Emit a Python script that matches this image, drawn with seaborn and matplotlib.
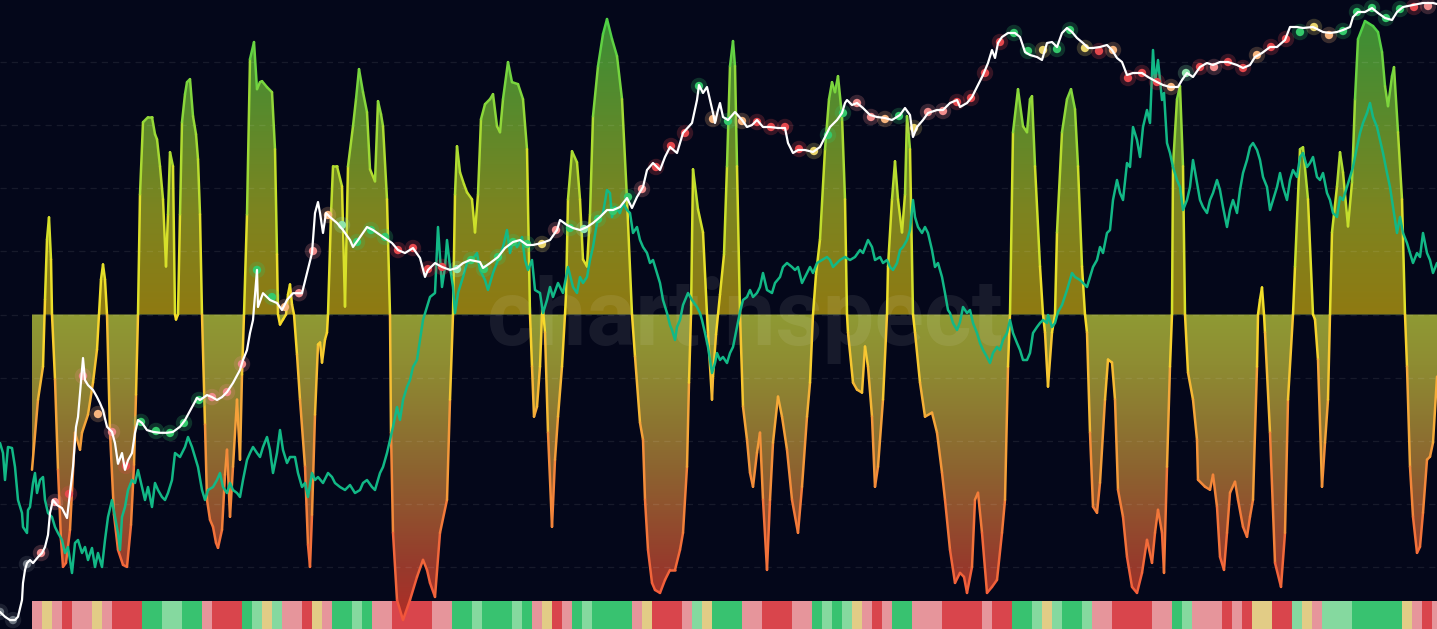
import numpy as np
import pandas as pd
import matplotlib
matplotlib.use("Agg")
import matplotlib.pyplot as plt
import seaborn as sns
from matplotlib.collections import LineCollection
from matplotlib.colors import LinearSegmentedColormap, Normalize
from matplotlib.ticker import MultipleLocator

# ========= Data =========
# oscillator score, 0 = neutral line
osc_t = [32, 38, 43, 45, 47, 49, 51, 52, 55, 58,
         61, 63, 66, 70, 75, 80, 82, 88, 93, 97,
         99, 101, 103, 105, 107, 110, 114, 118, 123, 127,
         131, 134, 136, 138, 140, 143, 148, 152, 155, 157,
         160, 163, 166, 168, 170, 173, 175, 176, 178, 180,
         182, 185, 187, 190, 193, 196, 198, 200, 202, 205,
         207, 210, 213, 216, 218, 222, 225, 227, 230, 233,
         237, 240, 242, 244, 247, 250, 254, 257, 260, 262,
         267, 272, 275, 277, 278, 280, 283, 286, 288, 290,
         292, 294, 297, 300, 305, 308, 310, 312, 315, 318,
         320, 322, 325, 327, 328, 331, 333, 337, 342, 345,
         348, 353, 356, 359, 363, 367, 370, 375, 378, 381,
         383, 387, 390, 391, 393, 397, 403, 410, 417, 423,
         427, 430, 435, 440, 447, 450, 453, 455, 457, 460,
         464, 467, 472, 475, 478, 481, 485, 490, 493, 497,
         500, 503, 508, 512, 518, 523, 527, 530, 532, 534,
         537, 540, 542, 543, 545, 548, 552, 555, 558, 562,
         565, 566, 568, 572, 577, 580, 583, 587, 590, 593,
         598, 603, 607, 612, 617, 622, 627, 632, 635, 640,
         643, 645, 648, 652, 655, 660, 665, 670, 675, 680,
         683, 687, 689, 691, 693, 698, 703, 707, 708, 712,
         713, 716, 718, 720, 724, 727, 730, 733, 735, 737,
         740, 743, 747, 750, 753, 757, 760, 763, 767, 770,
         773, 778, 782, 787, 792, 798, 802, 807, 810, 813,
         816, 820, 825, 829, 832, 835, 838, 842, 845, 847,
         848, 853, 857, 862, 865, 868, 872, 875, 878, 883,
         887, 888, 892, 895, 898, 902, 905, 907, 910, 913,
         915, 920, 925, 932, 937, 942, 945, 950, 955, 960,
         964, 967, 972, 975, 978, 982, 987, 992, 997, 1002,
         1005, 1008, 1010, 1013, 1018, 1023, 1027, 1030, 1032, 1035,
         1040, 1043, 1045, 1048, 1052, 1055, 1057, 1062, 1067, 1071,
         1075, 1078, 1082, 1085, 1087, 1090, 1093, 1097, 1100, 1105,
         1108, 1112, 1115, 1118, 1123, 1127, 1132, 1137, 1142, 1147,
         1152, 1155, 1158, 1162, 1164, 1167, 1170, 1172, 1173, 1177,
         1180, 1183, 1185, 1188, 1193, 1197, 1198, 1205, 1210, 1213,
         1217, 1220, 1224, 1227, 1230, 1235, 1238, 1243, 1247, 1250,
         1253, 1257, 1258, 1260, 1262, 1264, 1265, 1270, 1275, 1281,
         1285, 1288, 1293, 1295, 1300, 1303, 1308, 1313, 1315, 1318,
         1322, 1325, 1328, 1330, 1332, 1337, 1340, 1343, 1348, 1352,
         1355, 1358, 1365, 1373, 1378, 1382, 1385, 1388, 1392, 1394,
         1398, 1402, 1405, 1407, 1410, 1413, 1417, 1420, 1423, 1427,
         1430, 1433, 1437]
osc_val = [-155, -85, -52, 15, 75, 97, 55, 0, -65, -155,
           -225, -252, -248, -215, -118, -135, -118, -100, -68, -35,
           0, 35, 50, 35, 0, -118, -200, -235, -250, -252,
           -210, -150, -80, 0, 120, 192, 197, 197, 180, 175,
           148, 115, 48, 100, 162, 148, 0, -5, 0, 100,
           192, 220, 232, 235, 198, 180, 155, 100, 0, -110,
           -185, -205, -212, -228, -233, -215, -160, -135, -202, -152,
           -85, -145, -60, 0, 100, 255, 272, 225, 232, 233,
           227, 222, 165, 60, 0, -10, -5, 0, 20, 30,
           10, 0, -40, -85, -152, -230, -252, -200, -100, -30,
           -28, -48, -25, -18, 0, 100, 148, 148, 128, 8,
           148, 188, 215, 245, 222, 202, 145, 133, 213, 200,
           188, 115, 0, -118, -218, -285, -305, -285, -262, -245,
           -255, -268, -282, -218, -185, -85, 0, 120, 168, 142,
           130, 122, 115, 82, 120, 195, 210, 215, 220, 188,
           182, 215, 252, 232, 230, 215, 165, 0, -52, -102,
           -92, -52, 0, 5, -18, -118, -212, -145, -102, -52,
           0, 20, 115, 163, 152, 115, 55, 48, 100, 198,
           248, 280, 295, 275, 258, 215, 115, 0, -42, -108,
           -125, -185, -235, -268, -275, -278, -265, -255, -255, -235,
           -218, -152, -68, 0, 145, 105, 82, 0, -18, -85,
           -62, -20, 0, 20, 60, 148, 248, 273, 248, 148,
           0, -92, -125, -158, -172, -138, -118, -185, -255, -185,
           -128, -82, -102, -135, -185, -218, -172, -102, -68, 0,
           40, 75, 165, 215, 232, 222, 238, 198, 115, 0,
           -18, -68, -75, -78, -32, -52, -102, -172, -152, -85,
           0, 48, 115, 153, 115, 82, 120, 198, 165, 0,
           -18, -68, -102, -98, -118, -158, -185, -235, -268, -258,
           -262, -278, -252, -185, -178, -218, -278, -272, -265, -218,
           -185, -52, 0, 182, 225, 188, 182, 215, 218, 148,
           48, 0, -18, -72, -18, 0, 82, 182, 215, 225,
           205, 148, 48, 0, -18, -118, -192, -198, -168, -85,
           -45, -48, -85, -175, -202, -242, -272, -278, -258, -225,
           -248, -218, -195, -218, -258, -152, -52, 0, 148, 215,
           228, 148, 0, -58, -85, -125, -165, -172, -175, -160,
           -192, -242, -255, -218, -178, -167, -185, -212, -222, -202,
           -185, -52, 0, 15, 27, 0, -18, -118, -248, -272,
           -218, -85, 0, 48, 165, 167, 115, 0, -5, -45,
           -172, -128, -85, 0, 82, 128, 162, 142, 88, 132,
           215, 275, 293, 288, 282, 262, 228, 208, 238, 247,
           182, 115, 0, -52, -152, -202, -238, -232, -198, -145,
           -142, -128, -62]

# price, USD (log scale)
price_t = [0, 5, 10, 15, 18, 22, 23, 25, 27, 30,
           33, 38, 42, 45, 48, 50, 53, 57, 62, 67,
           70, 73, 76, 78, 80, 83, 85, 88, 93, 97,
           100, 103, 107, 112, 115, 118, 122, 125, 128, 132,
           135, 138, 142, 147, 153, 160, 167, 173, 180, 185,
           192, 197, 200, 207, 212, 217, 222, 227, 233, 240,
           243, 247, 250, 253, 257, 258, 263, 270, 277, 282,
           287, 293, 302, 307, 312, 315, 318, 320, 323, 326,
           330, 337, 343, 350, 353, 358, 367, 373, 383, 392,
           398, 405, 413, 420, 425, 428, 435, 442, 450, 457,
           463, 470, 480, 483, 490, 498, 505, 513, 520, 527,
           533, 542, 550, 557, 560, 567, 573, 580, 587, 593,
           600, 607, 613, 620, 627, 632, 637, 643, 647, 653,
           660, 665, 670, 677, 683, 692, 697, 699, 703, 707,
           710, 713, 715, 718, 720, 723, 728, 735, 742, 747,
           752, 757, 763, 770, 778, 785, 788, 793, 798, 805,
           813, 820, 825, 830, 837, 842, 845, 847, 852, 857,
           863, 870, 877, 885, 892, 900, 905, 910, 913, 917,
           923, 928, 937, 943, 950, 957, 960, 967, 972, 977,
           983, 988, 992, 995, 998, 1002, 1008, 1015, 1020, 1025,
           1030, 1037, 1042, 1047, 1052, 1057, 1062, 1067, 1072, 1077,
           1083, 1088, 1093, 1100, 1107, 1112, 1117, 1122, 1127, 1133,
           1142, 1148, 1157, 1163, 1170, 1178, 1182, 1187, 1193, 1200,
           1207, 1213, 1220, 1228, 1237, 1243, 1250, 1255, 1262, 1270,
           1277, 1285, 1290, 1297, 1303, 1313, 1323, 1330, 1337, 1343,
           1350, 1353, 1358, 1365, 1372, 1378, 1385, 1392, 1397, 1403,
           1413, 1423, 1433, 1437]
price_usd = [0.076, 0.068, 0.063, 0.063, 0.068, 0.10, 0.148, 0.20, 0.234, 0.251,
             0.234, 0.269, 0.295, 0.339, 0.447, 0.741, 1.0, 0.89, 0.83, 0.66,
             1.17, 2.14, 5.37, 6.76, 11.7, 26.3, 15.8, 14.1, 12.6, 10.7,
             9.3, 7.9, 5.4, 4.8, 3.7, 2.3, 2.95, 2.0, 2.5, 2.95,
             4.7, 6.3, 5.9, 5.0, 4.8, 4.7, 4.7, 4.8, 5.4, 6.3,
             8.5, 10.5, 10.0, 11.2, 10.7, 10.0, 10.7, 12.0, 14.8, 20.0,
             25.1, 31.6, 46.8, 63.1, 200, 85.1, 117, 100, 93.3, 79.4,
             100, 117, 117, 186, 295, 741, 955, 741, 468, 741,
             676, 589, 501, 398, 339, 398, 537, 501, 427, 372,
             316, 295, 331, 263, 170, 200, 234, 214, 200, 209,
             234, 251, 240, 209, 234, 269, 331, 380, 398, 355,
             355, 372, 398, 501, 631, 562, 525, 501, 537, 589,
             676, 794, 794, 851, 1047, 832, 1072, 1349, 1995, 2344,
             1995, 2692, 3388, 2951, 4677, 5888, 10000, 14125, 11749, 13490,
             10000, 7413, 5888, 7943, 9333, 6761, 6310, 7586, 6310, 5370,
             5623, 6310, 5370, 5370, 5248, 5248, 3715, 2951, 3162, 3162,
             3020, 3388, 4266, 5370, 6310, 7413, 9333, 10000, 8913, 9333,
             8318, 7079, 6761, 6607, 6310, 7079, 8318, 7079, 4266, 5370,
             6310, 7413, 7943, 7943, 9333, 10000, 8511, 9333, 10715, 13490,
             17783, 23442, 31623, 26303, 37154, 42658, 46774, 46774, 42658, 30200,
             28184, 26915, 25119, 37154, 38019, 33884, 46774, 52481, 47863, 41687,
             37154, 33113, 33113, 33884, 35481, 31623, 26303, 23988, 17783, 18621,
             18621, 16982, 15136, 14125, 13490, 13490, 15849, 18621, 16982, 21380,
             23442, 22387, 23988, 23988, 22387, 20893, 22387, 26915, 29512, 33884,
             33884, 39811, 53703, 53703, 52481, 53703, 47863, 46774, 47863, 50119,
             53703, 67608, 75858, 75858, 83176, 74131, 66069, 63096, 75858, 85114,
             89125, 93325, 93325, 91201]

# teal ratio line
ratio_t = [0, 3, 5, 8, 12, 15, 18, 22, 23, 27,
           28, 30, 33, 35, 37, 40, 43, 45, 48, 52,
           55, 58, 62, 65, 68, 72, 75, 78, 82, 85,
           88, 92, 95, 98, 102, 105, 108, 112, 115, 118,
           120, 122, 125, 128, 132, 135, 138, 142, 145, 148,
           152, 155, 158, 162, 165, 168, 172, 175, 180, 185,
           188, 192, 195, 198, 202, 205, 208, 213, 217, 220,
           223, 227, 230, 233, 237, 240, 243, 247, 250, 253,
           257, 260, 263, 267, 270, 273, 277, 280, 283, 287,
           290, 295, 298, 302, 305, 308, 312, 315, 318, 323,
           328, 332, 335, 340, 345, 350, 355, 360, 363, 367,
           372, 375, 380, 383, 387, 390, 393, 397, 400, 403,
           407, 410, 413, 417, 420, 423, 427, 430, 435, 438,
           442, 445, 447, 450, 453, 455, 458, 463, 467, 472,
           477, 480, 485, 488, 493, 498, 503, 507, 510, 513,
           517, 522, 525, 528, 532, 535, 540, 543, 547, 550,
           553, 558, 563, 568, 573, 577, 580, 583, 587, 590,
           593, 597, 600, 603, 607, 610, 612, 615, 620, 623,
           627, 630, 633, 637, 640, 643, 647, 650, 653, 657,
           660, 663, 667, 670, 672, 675, 677, 680, 683, 688,
           692, 697, 700, 702, 705, 708, 712, 715, 717, 720,
           723, 727, 730, 733, 737, 740, 743, 747, 750, 753,
           757, 760, 763, 767, 772, 775, 780, 783, 787, 792,
           795, 798, 802, 805, 810, 813, 817, 822, 827, 830,
           833, 837, 840, 845, 850, 855, 860, 863, 868, 872,
           875, 880, 883, 887, 890, 893, 897, 900, 903, 907,
           910, 913, 915, 918, 922, 925, 928, 932, 935, 938,
           942, 945, 948, 950, 953, 957, 960, 963, 967, 970,
           973, 977, 980, 983, 987, 990, 993, 997, 1000, 1003,
           1007, 1010, 1013, 1017, 1020, 1023, 1027, 1030, 1033, 1037,
           1040, 1043, 1047, 1048, 1052, 1055, 1058, 1062, 1067, 1072,
           1075, 1080, 1083, 1087, 1090, 1093, 1097, 1100, 1103, 1107,
           1110, 1113, 1117, 1120, 1123, 1127, 1130, 1133, 1137, 1140,
           1143, 1147, 1150, 1153, 1155, 1158, 1162, 1164, 1167, 1170,
           1173, 1177, 1180, 1183, 1187, 1190, 1193, 1197, 1200, 1203,
           1207, 1210, 1213, 1217, 1220, 1223, 1227, 1230, 1233, 1237,
           1240, 1243, 1247, 1250, 1253, 1257, 1260, 1263, 1267, 1270,
           1273, 1277, 1280, 1283, 1287, 1290, 1293, 1297, 1300, 1303,
           1307, 1310, 1313, 1317, 1320, 1323, 1327, 1330, 1333, 1337,
           1340, 1343, 1347, 1350, 1353, 1357, 1360, 1363, 1367, 1370,
           1373, 1377, 1380, 1383, 1387, 1390, 1393, 1397, 1400, 1403,
           1407, 1410, 1413, 1417, 1420, 1423, 1427, 1430, 1433, 1437]
ratio_val = [1.57, 1.47, 1.20, 1.53, 1.52, 1.33, 1.00, 0.87, 0.73, 0.67,
             0.90, 0.93, 1.17, 1.27, 1.07, 1.20, 1.23, 1.00, 0.87, 0.83,
             0.73, 0.67, 0.60, 0.47, 0.53, 0.27, 0.57, 0.60, 0.47, 0.53,
             0.40, 0.52, 0.33, 0.47, 0.33, 0.60, 0.83, 1.00, 0.83, 0.67,
             0.50, 0.83, 0.93, 1.10, 1.20, 1.17, 1.30, 1.13, 1.00, 1.13,
             0.93, 1.17, 1.10, 1.03, 1.00, 1.07, 1.20, 1.47, 1.43, 1.53,
             1.63, 1.53, 1.43, 1.33, 1.10, 1.00, 1.10, 1.13, 1.20, 1.27,
             1.13, 1.07, 1.17, 1.10, 1.07, 1.03, 1.20, 1.40, 1.47, 1.53,
             1.47, 1.43, 1.53, 1.63, 1.50, 1.27, 1.47, 1.70, 1.50, 1.37,
             1.43, 1.43, 1.27, 1.13, 1.17, 1.03, 1.27, 1.20, 1.23, 1.17,
             1.27, 1.23, 1.17, 1.13, 1.10, 1.15, 1.07, 1.10, 1.17, 1.20,
             1.13, 1.10, 1.27, 1.33, 1.47, 1.60, 1.73, 1.93, 1.80, 2.00,
             2.13, 2.20, 2.33, 2.40, 2.60, 2.80, 2.93, 3.03, 3.07, 3.73,
             3.13, 3.33, 3.60, 3.33, 3.13, 2.87, 3.07, 3.23, 3.37, 3.40,
             3.47, 3.30, 3.20, 3.10, 3.27, 3.40, 3.53, 3.70, 3.47, 3.60,
             3.53, 3.63, 3.40, 3.30, 3.40, 3.10, 3.07, 2.87, 3.00, 3.13,
             3.03, 3.17, 3.07, 3.33, 3.13, 3.07, 3.23, 3.17, 3.23, 3.40,
             3.53, 3.77, 3.83, 3.87, 4.10, 4.07, 3.83, 3.93, 3.87, 3.97,
             3.90, 3.87, 3.67, 3.73, 3.60, 3.53, 3.47, 3.37, 3.40, 3.27,
             3.17, 3.00, 2.87, 2.75, 2.70, 2.60, 2.73, 2.80, 2.95, 3.07,
             3.00, 2.93, 2.87, 2.80, 2.67, 2.53, 2.27, 2.37, 2.47, 2.40,
             2.43, 2.37, 2.47, 2.53, 2.73, 2.88, 3.00, 3.03, 3.10, 3.03,
             3.07, 3.13, 3.27, 3.10, 3.07, 3.17, 3.23, 3.33, 3.37, 3.33,
             3.30, 3.33, 3.17, 3.23, 3.33, 3.27, 3.37, 3.40, 3.43, 3.40,
             3.33, 3.37, 3.40, 3.43, 3.40, 3.43, 3.50, 3.47, 3.60, 3.53,
             3.40, 3.43, 3.37, 3.40, 3.33, 3.30, 3.37, 3.50, 3.53, 3.60,
             3.70, 4.00, 3.83, 3.73, 3.67, 3.73, 3.67, 3.50, 3.33, 3.37,
             3.23, 3.07, 2.90, 2.87, 2.77, 2.70, 2.78, 2.93, 2.87, 2.90,
             2.77, 2.67, 2.57, 2.50, 2.43, 2.37, 2.47, 2.53, 2.50, 2.60,
             2.67, 2.80, 2.67, 2.57, 2.50, 2.40, 2.40, 2.47, 2.67, 2.73,
             2.77, 2.80, 2.77, 2.85, 2.73, 2.77, 2.88, 2.95, 3.10, 3.27,
             3.23, 3.20, 3.17, 3.13, 3.23, 3.33, 3.40, 3.53, 3.47, 3.67,
             3.70, 4.00, 4.20, 4.07, 4.00, 4.37, 4.33, 4.73, 4.60, 4.43,
             4.73, 4.90, 4.77, 5.50, 5.17, 5.40, 5.00, 5.07, 4.57, 4.47,
             4.33, 4.20, 4.13, 3.90, 4.00, 4.13, 4.40, 4.17, 4.00, 3.93,
             3.87, 4.00, 4.07, 4.20, 4.10, 3.93, 3.73, 3.90, 4.00, 3.87,
             4.10, 4.27, 4.40, 4.53, 4.57, 4.50, 4.40, 4.23, 4.13, 3.90,
             4.00, 4.13, 4.27, 4.13, 4.00, 4.20, 4.30, 4.23, 4.43, 4.47,
             4.33, 4.37, 4.43, 4.23, 4.20, 4.27, 4.07, 4.00, 3.87, 3.83,
             4.03, 4.00, 4.13, 4.23, 4.33, 4.53, 4.67, 4.77, 4.87, 4.97,
             4.83, 4.73, 4.60, 4.47, 4.27, 4.13, 3.93, 3.67, 3.83, 3.67,
             3.57, 3.47, 3.37, 3.47, 3.43, 3.67, 3.47, 3.40, 3.27, 3.37]

# signal dots on the price line
dot_t = [0, 13, 27, 41, 55, 69, 83, 98, 112, 126,
         141, 156, 170, 184, 199, 212, 227, 242, 257, 272,
         285, 299, 313, 328, 342, 357, 371, 385, 398, 413,
         428, 442, 457, 471, 484, 498, 513, 527, 542, 556,
         570, 584, 598, 613, 628, 642, 656, 671, 685, 699,
         713, 728, 742, 757, 771, 785, 799, 814, 828, 843,
         857, 871, 885, 899, 914, 928, 943, 957, 971, 985,
         1000, 1014, 1028, 1043, 1057, 1070, 1085, 1099, 1113, 1128,
         1142, 1157, 1171, 1186, 1200, 1214, 1228, 1243, 1257, 1271,
         1286, 1300, 1314, 1329, 1343, 1357, 1372, 1386, 1400, 1414,
         1428]
dot_usd = [0.076, 0.063, 0.229, 0.295, 0.955, 1.15, 17.4, 7.24, 4.79, 2.19,
           6.03, 4.90, 4.68, 5.89, 10.0, 10.7, 12.0, 22.9, 200, 107,
           85.1, 117, 309, 708, 562, 380, 501, 427, 316, 331,
           204, 214, 204, 251, 204, 269, 380, 363, 363, 501,
           525, 513, 646, 776, 1072, 1288, 2138, 3467, 4677, 13804,
           6457, 6166, 6166, 6026, 5370, 5370, 3236, 3090, 4467, 7413,
           9333, 6761, 6457, 6918, 5248, 7586, 7762, 9550, 10471, 18621,
           38019, 46774, 30903, 31623, 32359, 50119, 33113, 30903, 31623, 16596,
           18621, 15136, 13490, 18621, 21380, 21380, 23988, 20893, 28184, 33884,
           40738, 47863, 53703, 44668, 48978, 75858, 83176, 66069, 81283, 85114,
           87096]
dot_sig = ["grey", "grey", "grey", "pink", "pink", "red", "pink", "orange", "pink", "red",
           "green", "green", "green", "green", "green", "pink", "pink", "pink", "green", "green",
           "orange", "pink", "pink", "orange", "lime", "green", "green", "green", "red", "red",
           "red", "red", "lime", "green", "green", "green", "green", "green", "yellow", "pink",
           "green", "lime", "green", "green", "green", "pink", "red", "red", "red", "green",
           "orange", "green", "orange", "red", "red", "red", "red", "yellow", "green", "green",
           "pink", "pink", "orange", "green", "yellow", "pink", "pink", "red", "red", "red",
           "red", "green", "green", "yellow", "green", "green", "yellow", "red", "orange", "red",
           "red", "red", "orange", "lime", "red", "pink", "red", "red", "orange", "red",
           "red", "green", "yellow", "orange", "green", "green", "green", "green", "green", "red",
           "pink"]

# bottom signal strip, one cell per 10 steps from t = 32 (-2 red ... +2 green)
strip_score = [-1, 0, -1, -2, -1, -1, 0, -1, -2, -2,
               -2, 2, 2, 1, 1, 2, 2, -1, -2, -2,
               -2, 2, 1, 0, 1, -1, -1, -2, 0, -1,
               2, 2, 1, 2, -1, -1, -2, -2, -2, -2,
               -1, -1, 2, 2, 1, 2, 2, 2, 1, 2,
               -1, 0, -2, -1, 2, 1, 2, 2, 2, 2,
               -1, 0, -2, -2, -2, -1, 1, 0, 2, 2,
               2, -1, -1, -2, -2, -2, -1, -1, 2, 1,
               2, 1, 0, -1, -2, -1, 2, 2, -1, -1,
               -1, -2, -2, -2, -2, -1, -2, -2, 2, 2,
               1, 0, 1, 2, 2, 1, -1, -1, -2, -2,
               -2, -2, -1, -1, 2, 1, -1, -1, -1, -2,
               -1, -2, 0, 0, -2, -2, 1, 0, -1, 1,
               1, 1, 2, 2, 2, 2, 2, 0, -1, -2,
               -1]

# ========= Styles =========
BG = "#04071a"
W, H = 1437, 629
dot_colors = {"grey": "#6e7681", "red": "#e5484d", "pink": "#f08c8c", "orange": "#f7b57e",
              "yellow": "#e9d46b", "lime": "#8fe3aa", "green": "#34c96b"}
strip_cmap = LinearSegmentedColormap.from_list(
    "strip", ["#d9454c", "#e6959b", "#e3cc86", "#86d9a0", "#38c270"])
fill_up = LinearSegmentedColormap.from_list(
    "up", [(0, "#8f7a12"), (0.32, "#7d8420"), (0.63, "#5a8a2c"), (1, "#358f38")])
fill_dn = LinearSegmentedColormap.from_list(
    "dn", [(0, "#b52b26"), (0.2, "#963a2c"), (0.52, "#8c6530"), (0.84, "#8e8c32"), (1, "#8f9a34")])
line_cmap = LinearSegmentedColormap.from_list(
    "osc", ["#f2543b", "#f37a3a", "#f5a93a", "#f8df2a", "#cde02a", "#8fd83a", "#48cf48"])

sns.set_style("dark", {"axes.facecolor": BG, "figure.facecolor": BG})
fig = plt.figure(figsize=(W / 100, H / 100), dpi=100, facecolor=BG)

# ========= Strip =========
ax_strip = fig.add_axes([32 / W, 0, len(strip_score) * 10 / W, 28 / H], zorder=0)
sns.heatmap(pd.DataFrame([strip_score]), cmap=strip_cmap, vmin=-2, vmax=2, cbar=False,
            xticklabels=False, yticklabels=False, ax=ax_strip)
ax_strip.set_axis_off()

# ========= Oscillator =========
ax = fig.add_axes([0, 0, 1, 1], zorder=1)
ax.patch.set_visible(False)
for s in ax.spines.values():
    s.set_visible(False)
ax.tick_params(left=False, bottom=False, labelleft=False, labelbottom=False)
ax.set_xlim(0, W)
ax.set_ylim(-314, 314)
ax.yaxis.set_major_locator(MultipleLocator(63))
ax.grid(axis="y", color="white", alpha=0.08, linestyle=(0, (5, 4)), linewidth=0.9)
ax.grid(axis="x", visible=False)
ax.set_axisbelow(False)

poly = ax.fill_between(osc_t, osc_val, 0, facecolor="none", edgecolor="none")
clip = poly.get_paths()[0]
ramp = np.linspace(0, 1, 256).reshape(-1, 1)
im_up = ax.imshow(ramp, cmap=fill_up, extent=[0, W, 0, 315], origin="lower",
                  aspect="auto", zorder=1)
im_up.set_clip_path(clip, transform=ax.transData)
im_dn = ax.imshow(ramp, cmap=fill_dn, extent=[0, W, -314, 0], origin="lower",
                  aspect="auto", zorder=1)
im_dn.set_clip_path(clip, transform=ax.transData)
ax.set_xlim(0, W)
ax.set_ylim(-314, 314)

pts = np.column_stack([osc_t, osc_val])
segs = np.stack([pts[:-1], pts[1:]], axis=1)
lc = LineCollection(segs, cmap=line_cmap, norm=Normalize(-300, 300), linewidth=1.8,
                    capstyle="round", joinstyle="round", zorder=4)
lc.set_array((np.array(osc_val[:-1]) + np.array(osc_val[1:])) / 2)
ax.add_collection(lc)

ax.text(745, -30, "chartinspect", ha="center", va="baseline", fontsize=66,
        fontweight="bold", family=["Roboto", "DejaVu Sans"],
        color="white", alpha=0.08, zorder=3)

# ========= Ratio line =========
ax_ratio = fig.add_axes([0, 0, 1, 1], zorder=2, label="ratio")
sns.lineplot(x=ratio_t, y=ratio_val, ax=ax_ratio, color="#12b886", linewidth=1.8,
             estimator=None)
ax_ratio.set_xlim(0, W)
ax_ratio.set_ylim(-0.29, 6.0)
ax_ratio.set_axis_off()

# ========= Price line + signal dots =========
ax_price = fig.add_axes([0, 0, 1, 1], zorder=3, label="price")
ax_price.set_yscale("log")
sns.lineplot(x=price_t, y=price_usd, ax=ax_price, color="white", linewidth=1.6,
             estimator=None)
sns.scatterplot(x=dot_t, y=dot_usd, hue=dot_sig, palette=dot_colors, s=140, alpha=0.22,
                linewidth=0, legend=False, ax=ax_price)
sns.scatterplot(x=dot_t, y=dot_usd, hue=dot_sig, palette=dot_colors, s=36,
                linewidth=0, legend=False, ax=ax_price)
ax_price.set_xlim(0, W)
ax_price.set_ylim(10 ** -1.29, 1e5)
ax_price.set_axis_off()

fig.savefig("out.png", dpi=100, facecolor=BG)
